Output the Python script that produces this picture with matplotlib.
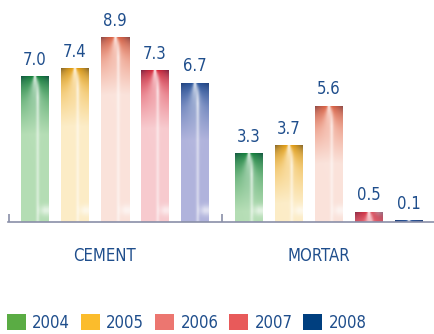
import matplotlib
matplotlib.use("Agg")
import matplotlib.pyplot as plt
from matplotlib.patches import Patch
from matplotlib.colors import to_rgb
import numpy as np

categories = ["CEMENT", "MORTAR"]
years = ["2004", "2005", "2006", "2007", "2008"]
cement = [7.0, 7.4, 8.9, 7.3, 6.7]
mortar = [3.3, 3.7, 5.6, 0.5, 0.1]

legend_colors = ["#5aac44", "#fbbc2c", "#ec7670", "#e85a5a", "#003f7f"]
top_colors = ["#0f8236", "#eea20a", "#e45a36", "#dc2436", "#1c4c96"]
body_colors = ["#b4ddb4", "#fcecc6", "#fae2da", "#f7cace", "#b0b3dc"]
txt = "#1f4e8c"

plt.rcParams["font.family"] = ["DejaVu Sans"]
plt.rcParams["font.stretch"] = "condensed"

fig = plt.figure(figsize=(4.34, 3.34), dpi=100)
ax = fig.add_axes([8 / 434, 112 / 334, 426 / 434, 222 / 334])

group_gap = 5.35
first = 0.675
width = 0.7


def bar_image(top, body, h, nx=40, ny=200):
    # vertical fade from the dark top colour into a pale body, with glints
    top = np.array(to_rgb(top))
    body = np.array(to_rgb(body))
    d = np.linspace(0, h, ny)[:, None]
    xf = np.linspace(0, 1, nx)[None, :]
    w = np.clip(d / 2.8, 0, 1) ** 0.6
    img = top * (1 - w[..., None]) + body * w[..., None]
    # light stripe right of centre
    stripe = 0.45 * np.exp(-((xf - 0.6) / 0.06) ** 2) * np.clip(d / 1.0, 0, 1)
    # white V at the top
    spread = 0.05 + 0.25 * np.clip(d / 1.2, 0, 1)
    vee = 0.9 * np.exp(-((xf - 0.5) / spread) ** 2) * np.exp(-d / 1.0)
    # glint near the foot
    foot = 0.6 * np.exp(-((d - (h - 0.55)) / 0.25) ** 2) * np.clip((xf - 0.55) / 0.3, 0, 1)
    white = np.clip(stripe + vee + foot, 0, 1)[..., None]
    img = img * (1 - white) + white
    # dark corners along the top edge
    dark = 0.5 * np.exp(-d / 0.35) * (np.abs(xf - 0.5) * 2) ** 1.5
    img = img * (1 - dark[..., None]) + np.array(to_rgb("#1a2a50")) * dark[..., None]
    return np.clip(img, 0, 1)


for g, vals in enumerate([cement, mortar]):
    for i, v in enumerate(vals):
        x = first + g * group_gap + i
        bar = ax.bar(x, v, width=width, color="none", edgecolor="none")[0]
        im = ax.imshow(bar_image(top_colors[i], body_colors[i], v),
                       extent=(x - width / 2, x + width / 2, 0, v),
                       aspect="auto", origin="upper", zorder=2)
        im.set_clip_path(bar)
        ax.text(x, v + 0.35, f"{v:.1f}", ha="center", va="bottom",
                fontsize=12, color=txt)
    ax.text(first + g * group_gap + 1.75, -1.65, categories[g], ha="center",
            va="center", fontsize=12, color=txt)

ax.set_xlim(0, 426 / 40)
ax.set_ylim(0, 222 / 20.8)
for s in ["top", "right", "left"]:
    ax.spines[s].set_visible(False)
ax.spines["bottom"].set_color("#8a8fa8")
ax.spines["bottom"].set_linewidth(1.2)
ax.set_yticks([])
ax.set_xticks([0.02, group_gap])
ax.set_xticklabels([])
ax.tick_params(axis="x", direction="in", length=6, width=1.2, color="#8a8fa8")

handles = [Patch(facecolor=c, edgecolor="none") for c in legend_colors]
fig.legend(handles, years, loc="lower left", bbox_to_anchor=(4 / 434, 0.0),
           ncol=5, frameon=False, fontsize=12, labelcolor=txt,
           handlelength=1.15, handleheight=1.15, handletextpad=0.4,
           columnspacing=0.62, borderaxespad=0.0, borderpad=0.15)

fig.savefig("out.png", dpi=100)
